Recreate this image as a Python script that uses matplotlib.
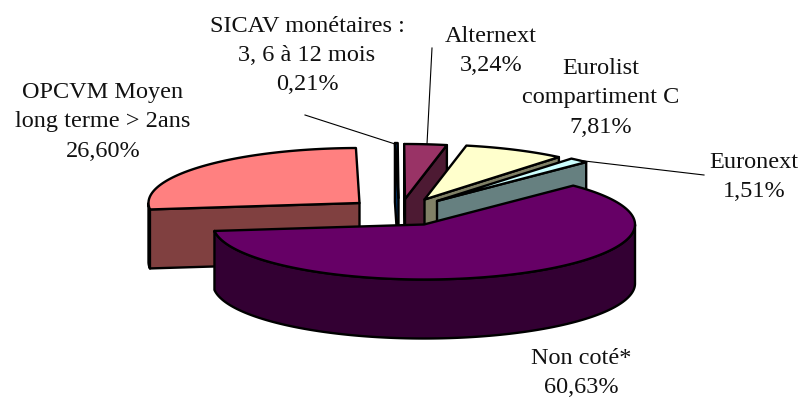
#!/usr/bin/env python3
# -*- coding: utf-8 -*-
import numpy as np
import matplotlib
matplotlib.use("Agg")
import matplotlib.pyplot as plt
from matplotlib.patches import Polygon

# parts in %, clockwise from the start angle
names = ["Non coté*", "OPCVM Moyen", "SICAV", "Alternext", "Eurolist C", "Euronext"]
values = [60.63, 26.60, 0.21, 3.24, 7.81, 1.51]
top_colors = ["#660066", "#FF8080", "#0066CC", "#993366", "#FFFFCC", "#CCFFFF"]
side_colors = ["#330033", "#804040", "#003366", "#4D1A33", "#808066", "#668080"]
# wedge apex in pixels (exploded pie, so each one has its own)
apex_x = [424, 359.5, 398.5, 405, 424.5, 437]
apex_y = [224.5, 203, 198, 199, 199.5, 201]

start_angle = 45
rx, ry = 211, 55
depth = 59
edge_lw = 1.7

fig = plt.figure(figsize=(8.05, 4), dpi=100)
ax = fig.add_axes([0, 0, 1, 1])
ax.set_xlim(0, 805)
ax.set_ylim(400, 0)
ax.axis("off")

def draw_wedge(cx, cy, t0, t1, top, side, z):
    n = max(3, int(abs(t0 - t1) * 2))
    t = np.radians(np.linspace(t0, t1, n))
    px = cx + rx * np.cos(t)
    py = cy - ry * np.sin(t)
    # arc parts facing the viewer
    front = np.diff(px) < 0
    i = 0
    while i < len(front):
        if front[i]:
            j = i
            while j < len(front) and front[j]:
                j += 1
            ax_pts = list(zip(px[i:j+1], py[i:j+1])) + list(zip(px[i:j+1][::-1], py[i:j+1][::-1] + depth))
            ax.add_patch(Polygon(ax_pts, closed=True, fc=side, ec="k", lw=edge_lw, joinstyle="round", zorder=z))
            i = j
        else:
            i += 1
    # the two cut faces
    for (ax0, ay0), (ax1, ay1) in [((cx, cy), (px[0], py[0])), ((px[-1], py[-1]), (cx, cy))]:
        if ax1 - ax0 < 0:
            pts = [(ax0, ay0), (ax1, ay1), (ax1, ay1 + depth), (ax0, ay0 + depth)]
            ax.add_patch(Polygon(pts, closed=True, fc=side, ec="k", lw=edge_lw, joinstyle="round", zorder=z))
    outline = [(cx, cy)] + list(zip(px, py))
    ax.add_patch(Polygon(outline, closed=True, fc=top, ec="k", lw=edge_lw, joinstyle="round", zorder=z + 0.5))

angles = start_angle - np.cumsum([0] + values) * 3.6
# back wedges first, Non coté goes last on top
for k in [1, 2, 3, 4, 5, 0]:
    draw_wedge(apex_x[k], apex_y[k], angles[k], angles[k + 1], top_colors[k], side_colors[k], 2 + (k if k else 10))

# labels
font = dict(family="Liberation Serif", fontsize=17.5, color="#111111", ha="center", va="center", linespacing=1.52, zorder=20)
ax.text(103, 122, "OPCVM Moyen\nlong terme > 2ans\n26,60%", **font)
ax.text(307, 55.5, "SICAV monétaires :\n3, 6 à 12 mois\n0,21%", **font)
ax.text(491, 51, "Alternext\n3,24%", **font)
ax.text(601, 98, "Eurolist\ncompartiment C\n7,81%", **font)
ax.text(754, 177, "Euronext\n1,51%", **font)
ax.text(581, 373, "Non coté*\n60,63%", **font)

# leader lines
ax.plot([305, 395], [115, 144], color="k", lw=0.8, zorder=1)
ax.plot([432, 427], [48, 144], color="k", lw=0.8, zorder=1)
ax.plot([576, 704], [160, 175], color="k", lw=0.8, zorder=1)

fig.savefig("out.png", dpi=100)
